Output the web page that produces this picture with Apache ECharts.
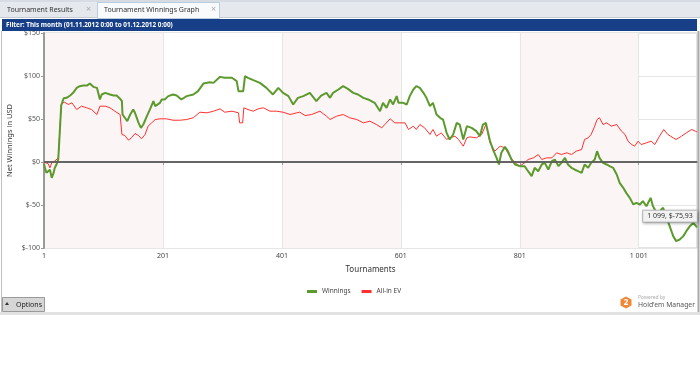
<!DOCTYPE html>
<html><head><meta charset="utf-8">
<script src="https://cdn.jsdelivr.net/npm/echarts@6/dist/echarts.min.js"></script>
<style>html,body{margin:0;padding:0;background:#fff;}#c{width:700px;height:385px;}</style>
</head><body><div id="c"></div>
<script>
var xTicks = [1, 201, 401, 601, 801, 1001];
var yTicks = [-100, -50, 0, 50, 100, 150];

var winT = [1,3,5,8,11,14,17,19,22,25,28,30,32,34,39,45,50,56,61,67,73,78,84,90,92,95,98,104,112,118,123,129,132,133,137,141,146,151,154,160,164,168,174,179,185,188,190,196,199,204,210,218,224,232,241,252,260,269,280,286,297,305,317,325,328,336,339,344,353,364,375,386,395,403,412,420,428,437,448,459,467,476,482,487,496,504,512,521,529,538,546,557,566,571,577,583,588,594,597,605,611,616,622,627,633,639,644,650,655,661,667,672,678,683,689,695,700,706,712,720,728,734,739,744,751,756,762,766,770,776,781,787,793,801,809,815,821,826,832,838,843,849,855,860,866,871,877,882,888,893,899,905,910,916,921,927,931,935,941,947,952,958,964,969,975,980,986,992,997,1003,1008,1014,1021,1025,1031,1036,1042,1048,1053,1059,1064,1070,1076,1081,1087,1093,1099];
var winV = [-2,-8,-12.6,-11,-9,-18.4,-13,-7,-3,3,5,66,70,74,74.6,77.3,80.4,86.2,88.2,88.9,88.9,91.2,87.4,86.2,84.3,72.7,78.5,80.4,78.5,77.3,77.3,73.5,70.7,55.2,51.4,47.5,55.2,61,57.2,45.5,39.7,43.6,53.3,61,70.7,64.9,66.9,68.8,72.7,72.7,76.6,78.5,77.3,72.7,76.6,78.5,82.4,91.2,92.8,92,99,97.9,97.9,94,82.4,82.4,99.8,97.9,95.2,92,86.2,78.5,86.2,80.4,76.6,66.9,74.6,76.6,80.4,70.7,77.3,80.4,74.6,80.4,84.3,88.2,85,80.4,78.5,74.6,72.7,68.8,59.1,68.8,63,72.7,66.9,76.6,68.8,68.8,66.9,76.6,84.3,88.2,86.2,80.4,74.6,64.9,68.8,55.2,51.4,49.4,33.9,26.2,32,45.5,43.6,26.2,41.7,39.7,35.9,30,43.6,45.5,24.2,14.5,4.8,-2.9,10.7,17.6,12.6,2.9,-2.9,-4.8,-4.8,-10.7,-16.5,-6.8,-10.7,-2.9,-1,-8.7,1,2.9,-4.8,-1,4.8,-2.9,-6.8,-8.7,-10.7,-12.6,-2.9,-6.8,-1,2.9,12.6,4.8,-1,-2.9,-4.8,-6.8,-14.5,-24.2,-30,-35.9,-41.7,-49.4,-47.5,-49.4,-45.5,-51.4,-41.7,-51.4,-59.1,-57.2,-53.3,-65,-74.6,-86.2,-92,-90.1,-86.2,-80.4,-74.6,-70.7,-75.93];

var evT = [1,8,11,14,19,25,28,30,33,35,42,48,56,64,73,81,90,95,104,112,120,129,132,137,143,148,154,160,165,171,176,182,188,196,207,218,230,241,252,263,275,286,297,305,317,328,330,335,337,344,353,361,370,381,392,403,415,426,431,440,451,465,476,482,493,504,515,527,538,549,560,569,574,583,591,599,608,614,622,627,633,641,650,655,661,669,678,683,692,698,706,712,717,720,728,737,744,751,759,768,776,784,793,801,809,815,824,832,838,846,855,863,871,880,888,896,905,910,916,921,927,931,935,941,947,955,964,972,978,983,989,994,1000,1005,1014,1022,1028,1036,1043,1050,1059,1064,1073,1081,1090,1096,1099];
var evV = [0,-2,-6.8,-1,1,4.8,6,66.9,68.8,69.6,66.9,68.8,61,64.9,63,61,55.2,64.9,64.9,63,59.1,55.2,32,30.8,25.4,28.1,33.1,30.8,27,32,41.7,45.5,49.4,50.2,50.2,48.6,48.6,49.4,51.4,57.9,57.2,59.1,61.8,57.9,59.1,57.2,45.5,45.5,63,61,59.1,61.8,63,59.1,59.1,57.9,55.2,57.2,57.9,54,55.2,59.1,53.3,49.4,53.3,55.2,51.4,49.4,45.5,47.5,43.6,39.7,43.6,50.2,45.5,45.5,45.5,37.8,41.7,37.8,43.6,39.7,32,37.8,30,33.9,26.2,28.1,30,26.2,18.4,28.1,29.2,30,28.1,32,43.6,22.3,12.6,18.4,16.5,6.8,-1,-4.8,-1,2.9,4.8,8.7,2.9,4.8,4.8,10.7,8.7,10.7,8.7,12.6,14.5,26.2,28.1,32,41.7,49.4,51.4,43.6,45.5,41.7,43.6,35.9,32,24.2,20.3,18.4,24.2,20.3,22.3,24.2,20.3,30,37.8,32,28.1,26.2,30,33.9,37.8,35.9,35];

var seriesNames = ['Winnings', 'All-in EV'];
var tipLabel = '1 099, $-75,93';

function zip(a, b) { return a.map(function (v, i) { return [v, b[i]]; }); }
function fmtX(v) { return v >= 1000 ? Math.floor(v / 1000) + ' ' + String(v % 1000).padStart(3, '0') : String(v); }

var FONT = 'Noto Sans';
var chart = echarts.init(document.getElementById('c'), null, { renderer: 'canvas' });
var lastWin = [winT[winT.length - 1], winV[winV.length - 1]];

chart.setOption({
  animation: false,
  backgroundColor: '#ffffff',
  textStyle: { fontFamily: FONT },
  grid: { left: 44, top: 33, width: 653, height: 215, containLabel: false, outerBoundsMode: 'none',
    show: true, borderColor: '#c8c8c8', borderWidth: 1, backgroundColor: 'transparent' },
  legend: {
    data: seriesNames, left: 302, top: 283, itemWidth: 10, itemHeight: 3, itemGap: 11, icon: 'rect',
    textStyle: { fontSize: 6.5, color: '#444', fontFamily: FONT }
  },
  xAxis: {
    type: 'value', min: 1, max: 1099,
    name: 'Tournaments', nameLocation: 'middle', nameGap: 18, nameMoveOverlap: false,
    nameTextStyle: { fontSize: 8, color: '#333', fontFamily: FONT },
    axisLine: { show: true, lineStyle: { color: '#999', width: 2 } },
    axisTick: { show: true, customValues: xTicks, length: 3, lineStyle: { color: '#999' } },
    axisLabel: { customValues: xTicks, fontSize: 7, color: '#444', margin: 4, formatter: function (v) { return fmtX(v); } },
    splitLine: { show: true, lineStyle: { color: '#e6e6e6', width: 1 } },
    splitArea: { show: true, areaStyle: { color: ['#fcf5f5', '#ffffff'] } }
  },
  yAxis: {
    type: 'value', min: -100, max: 150, interval: 50,
    name: 'Net Winnings in USD', nameLocation: 'middle', nameGap: 30, nameMoveOverlap: false,
    nameTextStyle: { fontSize: 7.5, color: '#333', fontFamily: FONT },
    axisLine: { show: true, lineStyle: { color: '#999', width: 2 } },
    axisTick: { show: true, length: 3, lineStyle: { color: '#999' } },
    axisLabel: { fontSize: 7, color: '#555', margin: 4, formatter: function (v) { return '$' + v; } },
    splitLine: { show: true, lineStyle: { color: '#e6e6e6', width: 1 } },
    splitArea: { show: false }
  },
  series: [
    {
      name: seriesNames[1], type: 'line', data: zip(evT, evV), showSymbol: false, symbol: 'none',
      lineStyle: { color: '#ff3030', width: 1 }, itemStyle: { color: '#ff3030' }, z: 3,
      markLine: { silent: true, symbol: 'none', label: { show: false },
        lineStyle: { color: '#555', width: 1.5, type: 'solid' }, data: [{ yAxis: 0 }] }
    },
    {
      name: seriesNames[0], type: 'line', data: zip(winT, winV), showSymbol: false, symbol: 'none',
      lineStyle: { color: '#5c9a2e', width: 2 }, itemStyle: { color: '#5c9a2e' }, z: 4,
      markPoint: {
        symbol: 'rect', symbolSize: 0, data: [{ coord: lastWin }],
        label: { show: true, formatter: tipLabel, position: 'inside', offset: [-27, -11],
          fontSize: 7, color: '#333', backgroundColor: '#f2f2f2', borderColor: '#bbb', borderWidth: 1,
          padding: [2, 4], shadowColor: 'rgba(0,0,0,0.25)', shadowBlur: 3, shadowOffsetX: 1, shadowOffsetY: 1 }
      }
    }
  ],
  graphic: [
    { type: 'rect', shape: { x: 0, y: 0, width: 700, height: 18 }, style: { fill: '#e5e9ee' }, z: 0 },
    { type: 'rect', shape: { x: 0, y: 0, width: 700, height: 2 }, style: { fill: '#d7dce3' }, z: 0 },
    { type: 'line', shape: { x1: 0, y1: 17.5, x2: 700, y2: 17.5 }, style: { stroke: '#c6cbd2', lineWidth: 1 }, z: 0 },
    { type: 'text', style: { x: 7, y: 9.5, text: 'Tournament Results', fontSize: 7, fill: '#333', fontFamily: FONT, verticalAlign: 'middle' }, z: 1 },
    { type: 'text', style: { x: 86, y: 9.5, text: '×', fontSize: 9, fill: '#aaa', fontFamily: FONT, verticalAlign: 'middle' }, z: 1 },
    { type: 'rect', shape: { x: 97.5, y: 2.5, width: 122, height: 16 }, style: { fill: '#f8fafc', stroke: '#b9cde0', lineWidth: 1 }, z: 1 },
    { type: 'text', style: { x: 104, y: 9.5, text: 'Tournament Winnings Graph', fontSize: 7, fill: '#333', fontFamily: FONT, verticalAlign: 'middle' }, z: 2 },
    { type: 'text', style: { x: 211, y: 9.5, text: '×', fontSize: 9, fill: '#aaa', fontFamily: FONT, verticalAlign: 'middle' }, z: 2 },
    { type: 'rect', shape: { x: 2, y: 19, width: 695, height: 12 }, style: { fill: '#173f88' }, z: 1 },
    { type: 'text', style: { x: 6, y: 25, text: 'Filter: This month (01.11.2012 0:00 to 01.12.2012 0:00)', fontSize: 6.4, fontWeight: 'bold', fill: '#ffffff', fontFamily: FONT, verticalAlign: 'middle' }, z: 2 },
    { type: 'line', shape: { x1: 1.5, y1: 31, x2: 1.5, y2: 312 }, style: { stroke: '#c0c0c0', lineWidth: 1 }, z: 1 },
    { type: 'line', shape: { x1: 698.5, y1: 31, x2: 698.5, y2: 312 }, style: { stroke: '#aaa', lineWidth: 2 }, z: 1 },
    { type: 'rect', shape: { x: 0, y: 312, width: 700, height: 3 }, style: { fill: '#e2e2e2' }, z: 1 },
    { type: 'rect', shape: { x: 2.5, y: 297.5, width: 42, height: 14 }, style: { fill: '#d6d6d6', stroke: '#9a9a9a', lineWidth: 1 }, z: 2 },
    { type: 'polygon', shape: { points: [[5, 305], [9, 305], [7, 302]] }, style: { fill: '#333' }, z: 3 },
    { type: 'text', style: { x: 16, y: 304.5, text: 'Options', fontSize: 7, fill: '#222', fontFamily: FONT, verticalAlign: 'middle' }, z: 3 },
    { type: 'polygon', shape: { points: [[626, 296.5], [631.5, 299.5], [631.5, 305.5], [626, 308.5], [620.5, 305.5], [620.5, 299.5]] }, style: { fill: '#f0883a' }, z: 2 },
    { type: 'text', style: { x: 626, y: 302.8, text: '2', fontSize: 8, fontWeight: 'bold', fill: '#fff', fontFamily: FONT, align: 'center', verticalAlign: 'middle' }, z: 3 },
    { type: 'text', style: { x: 638, y: 298, text: 'Powered by', fontSize: 5, fill: '#aaa', fontFamily: FONT, verticalAlign: 'middle' }, z: 3 },
    { type: 'text', style: { x: 638, y: 305.5, text: "Hold'em Manager", fontSize: 6.8, fill: '#555', fontFamily: FONT, verticalAlign: 'middle' }, z: 3 }
  ]
});
</script>
</body></html>
